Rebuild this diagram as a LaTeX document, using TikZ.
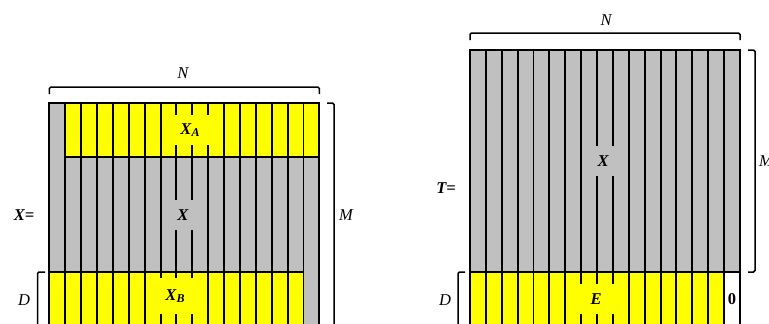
\documentclass[tikz,border=0pt]{standalone}
\usepackage{fontspec}
\setmainfont{Liberation Serif}
\definecolor{mgray}{RGB}{192,192,192}
\definecolor{myell}{RGB}{255,255,0}
\begin{document}
\begin{tikzpicture}[x=1pt,y=-1pt,
  gridline/.style={line width=1.9pt},
  brk/.style={line width=1.5pt, rounded corners=1.5pt},
  lab/.style={font=\fontsize{16.5}{19}\selectfont\itshape, inner sep=1pt},
  blab/.style={font=\fontsize{16.5}{19}\selectfont\bfseries\itshape, inner sep=1pt},
  tag/.style={font=\fontsize{16.5}{19}\selectfont\bfseries\itshape, inner xsep=8pt, inner ysep=2pt, minimum height=30pt, minimum width=30pt}]
\useasboundingbox (0,0) rectangle (769,324);
\clip (0,0) rectangle (769,324);
\def\w{15.88}
% ---------- left matrix ----------
\fill[mgray] (49.4,103) rectangle (319.4,330);
\fill[myell] (65.3,103) rectangle (319.4,157);
\fill[myell] (49.4,272) rectangle (303.5,330);
\foreach \i in {0,...,17} \draw[gridline] ({49.4+\i*\w},103) -- ({49.4+\i*\w},330);
\draw[gridline] (48.45,103) -- (320.35,103);
\draw[gridline] (65.3,157) -- (319.4,157);
\draw[gridline] (49.4,272) -- (303.5,272);
\node[tag, fill=myell, minimum width=44pt] (xa) at (190,130) {X\raisebox{-0.35ex}{\fontsize{12}{13}\selectfont A}};
\node[tag, fill=mgray] (xl) at (183,215) {X};
\node[tag, fill=myell, minimum width=44pt, minimum height=36pt] (xb) at (175,296) {X\raisebox{-0.35ex}{\fontsize{12}{13}\selectfont B}};
% brackets left
\draw[brk] (49.4,94) -- (49.4,87) -- (319.4,87) -- (319.4,94);
\draw[brk] (327,103) -- (334,103) -- (334,327) -- (327,327);
\draw[brk] (45,272) -- (37.5,272) -- (37.5,327) -- (45,327);
\node[lab] (nl) at (183,73) {N};
\node[lab] (ml) at (346,215) {M};
\node[lab] (dl) at (24,300) {D};
\node[blab] (xeq) at (24,215) {X=};
% ---------- right matrix ----------
\fill[mgray] (470,50) rectangle (740,272);
\fill[myell] (470,272) rectangle (724.1,330);
\foreach \i in {0,...,17} \draw[gridline] ({470+\i*\w},50) -- ({470+\i*\w},330);
\draw[gridline] (469.05,50) -- (740.95,50);
\draw[gridline] (469.05,272) -- (740.95,272);
\node[tag, fill=mgray] (xr) at (603,161) {X};
\node[tag, fill=myell, minimum width=38pt] (e) at (596,299) {E};
\node[font=\fontsize{16.5}{19}\selectfont\bfseries, inner sep=1pt] (zero) at (732,299) {0};
% brackets right
\draw[brk] (470,40) -- (470,33) -- (740,33) -- (740,40);
\draw[brk] (748,50) -- (755,50) -- (755,272) -- (748,272);
\draw[brk] (465,272) -- (458,272) -- (458,327) -- (465,327);
\node[lab] (nr) at (606,20) {N};
\node[lab] (mr) at (766,161) {M};
\node[lab] (dr) at (445,300) {D};
\node[blab] (teq) at (446,188) {T=};
\end{tikzpicture}
\end{document}
